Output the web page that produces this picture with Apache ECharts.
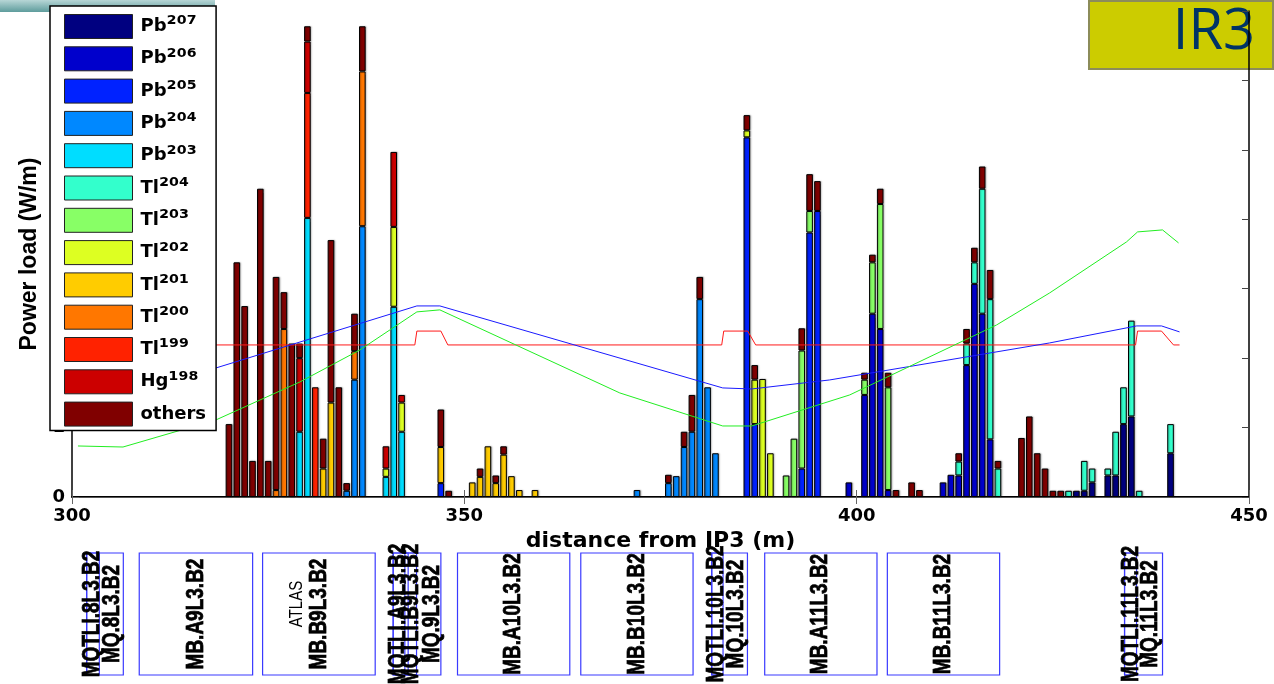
<!DOCTYPE html>
<html><head><meta charset="utf-8">
<script src="https://cdn.jsdelivr.net/npm/echarts@6/dist/echarts.min.js"></script>
<style>html,body{margin:0;padding:0;background:#fff}#c{width:1274px;height:684px}</style>
</head><body><div id="c"></div>
<script>
// ---- legend / species ----
const species = ['Pb207','Pb206','Pb205','Pb204','Pb203','Tl204','Tl203','Tl202','Tl201','Tl200','Tl199','Hg198','others'];
const colors  = ['#000080','#0000cc','#0022ff','#0088ff','#00ddff','#33ffcc','#88ff66','#ddff22','#ffcc00','#ff7700','#ff2200','#cc0000','#800000'];

// ---- stacked segment heights per 1 m bin: [distance (m), power load segment (W/m)] ----
const Pb207 = [[428,0.09],[429,0.09],[430,0.21],[432,0.31],[433,0.31],[434,1.05],[435,1.16],[440,0.63]];
const Pb206 = [[399,0.21],[401,1.47],[402,2.64],[403,2.42],[404,0.10],[411,0.21],[412,0.32],[413,0.31],[414,1.90],[415,3.07],[416,2.64],[417,0.83]];
const Pb205 = [[347,0.20],[386,5.18],[387,1.05],[393,0.41],[394,3.81],[395,4.12]];
const Pb204 = [[335,0.09],[336,1.69],[337,3.90],[372,0.10],[376,0.20],[377,0.30],[378,0.72],[379,0.94],[380,2.85],[381,1.58],[382,0.63]];
const Pb203 = [[329,0.94],[330,4.02],[340,0.29],[341,2.74],[342,0.94]];
const Tl204 = [[413,0.20],[414,0.31],[415,0.31],[416,1.80],[417,2.02],[418,0.41],[427,0.09],[429,0.43],[430,0.20],[432,0.10],[433,0.63],[434,0.53],[435,1.38],[436,0.09],[440,0.42]];
const Tl203 = [[391,0.31],[392,0.84],[393,1.70],[394,0.31],[401,0.22],[402,0.74],[403,1.80],[404,1.48]];
const Tl202 = [[340,0.12],[341,1.15],[342,0.42],[386,0.10],[387,0.64],[388,1.70],[389,0.63]];
const Tl201 = [[332,0.41],[333,1.36],[347,0.52],[351,0.21],[352,0.29],[353,0.73],[354,0.20],[355,0.61],[356,0.30],[357,0.10],[359,0.10]];
const Tl200 = [[326,0.10],[327,2.42],[336,0.41],[337,2.23]];
const Tl199 = [[330,1.80],[331,1.58]];
const Hg198 = [[329,1.06],[330,0.74],[340,0.32],[341,1.08],[342,0.11]];
const others = [[320,1.05],[321,3.38],[322,2.75],[323,0.52],[324,4.44],[325,0.52],[326,3.07],[327,0.53],[328,2.21],[329,0.21],[330,0.22],[332,0.43],[333,2.34],[334,1.58],[335,0.11],[336,0.54],[337,0.65],[347,0.54],[348,0.09],[352,0.12],[354,0.11],[355,0.12],[376,0.12],[378,0.22],[379,0.53],[380,0.32],[386,0.22],[387,0.21],[393,0.32],[394,0.53],[395,0.43],[401,0.10],[402,0.11],[403,0.22],[404,0.21],[405,0.10],[407,0.21],[408,0.10],[413,0.12],[414,0.21],[415,0.21],[416,0.32],[417,0.42],[418,0.11],[421,0.85],[422,1.16],[423,0.63],[424,0.41],[425,0.09],[426,0.09]];
const speciesData = [Pb207,Pb206,Pb205,Pb204,Pb203,Tl204,Tl203,Tl202,Tl201,Tl200,Tl199,Hg198,others];

// ---- overlay curves [distance (m), value on the same scale] ----
const redLine   = [[301.0,2.19],[343.69,2.19],[343.95,2.39],[347.01,2.39],[347.90,2.19],[382.80,2.19],[383.06,2.39],[386.11,2.39],[387.13,2.19],[435.54,2.19],[435.80,2.39],[438.85,2.39],[440.38,2.19],[441.15,2.19]];
const blueLine  = [[301.02,1.254],[343.95,2.752],[346.88,2.752],[382.93,1.571],[386.62,1.556],[396.56,1.686],[424.59,2.219],[435.67,2.464],[438.85,2.464],[441.15,2.378]];
const greenLine = [[300.76,0.735],[306.50,0.720],[318.34,1.110],[329.04,1.657],[336.69,2.118],[343.95,2.666],[346.88,2.695],[369.81,1.499],[382.93,1.023],[386.62,1.023],[399.11,1.470],[417.83,2.478],[424.59,2.939],[434.39,3.674],[435.80,3.818],[438.98,3.847],[441.02,3.660]];

// ---- machine elements (s-range in m) ----
const elemName  = ['MQTLI.8L3.B2','MQ.8L3.B2','MB.A9L3.B2','MB.B9L3.B2','MQTLI.A9L3.B2','MQTLI.B9L3.B2','MQ.9L3.B2','MB.A10L3.B2','MB.B10L3.B2','MQTLI.10L3.B2','MQ.10L3.B2','MB.A11L3.B2','MB.B11L3.B2','MQTLI.11L3.B2','MQ.11L3.B2'];
const elemStart = [301.87,301.87,308.57,324.29,340.93,342.42,340.93,349.13,364.84,381.53,381.53,388.28,403.91,434.14,434.14];
const elemEnd   = [303.48,306.54,323.02,338.64,342.84,343.91,347.01,363.44,379.15,382.97,386.08,402.59,418.22,435.67,438.98];
const labelText = ['MQTLI.8L3.B2','MQ.8L3.B2','MB.A9L3.B2','ATLAS','MB.B9L3.B2','MQTLI.A9L3.B2','MQTLI.B9L3.B2','MQ.9L3.B2','MB.A10L3.B2','MB.B10L3.B2','MQTLI.10L3.B2','MQ.10L3.B2','MB.A11L3.B2','MB.B11L3.B2','MQTLI.11L3.B2','MQ.11L3.B2'];
const labelPos  = [302.55,305.16,315.8,328.66,331.6,341.6,343.2,345.9,356.3,372.0,382.1,384.7,395.4,411.1,435.0,437.4];

const xMin = 300, xMax = 450, xStep = 50;

// ---- build options ----
const cats = [];
for (let x = xMin; x <= xMax; x++) cats.push(String(x));

const barSeries = species.map((name, i) => {
  const m = new Map(speciesData[i]);
  return {
    name, type: 'bar', stack: 'total', xAxisIndex: 0, yAxisIndex: 0,
    barWidth: 6.6,
    itemStyle: { color: colors[i], borderColor: '#000', borderWidth: 1,
                 shadowColor: 'rgba(0,0,0,0.3)', shadowBlur: 1.5, shadowOffsetX: 1 },
    emphasis: { disabled: true },
    data: cats.map(c => m.has(+c) ? m.get(+c) : '-')
  };
});

const lineSeries = [[redLine,'#ff1a1a'],[blueLine,'#1a1aff'],[greenLine,'#22ee22']].map(([d,c]) => ({
  type: 'line', xAxisIndex: 1, yAxisIndex: 0, data: d, showSymbol: false, symbol: 'none',
  lineStyle: { color: c, width: 1 }, z: 3, silent: true
}));

const boxSeries = {
  type: 'custom', xAxisIndex: 2, yAxisIndex: 2, silent: true, clip: false,
  data: elemStart.map((s,i) => [s, elemEnd[i]]),
  renderItem: function (params, api) {
    const p0 = api.coord([api.value(0), 1]);
    const p1 = api.coord([api.value(1), 0]);
    return { type: 'rect', shape: { x: p0[0], y: p0[1], width: p1[0]-p0[0], height: p1[1]-p0[1] },
             style: { fill: 'transparent', stroke: '#3a3aff', lineWidth: 1.2 } };
  }
};
const labelSeries = {
  type: 'custom', xAxisIndex: 2, yAxisIndex: 2, silent: true, clip: false, z: 5,
  data: labelPos.map(x => [x]),
  renderItem: function (params, api) {
    const t = labelText[params.dataIndex];
    const p = api.coord([api.value(0), 0.5]);
    const small = t === 'ATLAS';
    return { type: 'text', x: p[0], y: small ? p[1]-10 : p[1], rotation: Math.PI/2, scaleY: 1.25,
             style: { text: t, fill: '#000', align: 'center', verticalAlign: 'middle',
                      stroke: small ? null : '#000', lineWidth: small ? 0 : 0.6,
                      font: (small ? 'normal 15px' : 'bold 19px') + ' "Liberation Sans", Arial, sans-serif' } };
  }
};

const supMap = {'0':'\u2070','1':'\u00B9','2':'\u00B2','3':'\u00B3','4':'\u2074','5':'\u2075','6':'\u2076','7':'\u2077','8':'\u2078','9':'\u2079'};
const axisFont = { fontFamily: 'DejaVu Sans', fontWeight: 'bold', fontSize: 18, color: '#000' };

const option = {
  animation: false,
  backgroundColor: '#fff',
  grid: [
    { left: 72, right: 25, top: 11, bottom: 187 },
    { left: 72, right: 25, top: 553, height: 122 }
  ],
  xAxis: [
    { type: 'category', gridIndex: 0, position: 'bottom', data: cats, boundaryGap: false,
      axisLine: { lineStyle: { color: '#000', width: 2 } },
      axisTick: { inside: true, length: 7, interval: xStep - 1, lineStyle: { color: '#666' } },
      axisLabel: Object.assign({ margin: 10, interval: xStep - 1 }, axisFont),
      splitLine: { show: false },
      name: 'distance from IP3 (m)', nameLocation: 'middle', nameGap: 33,
      nameTextStyle: { fontFamily: 'DejaVu Sans', fontWeight: 'bold', fontSize: 22, color: '#000' } },
    { type: 'value', gridIndex: 0, position: 'top', min: xMin, max: xMax, interval: xStep,
      axisLine: { lineStyle: { color: '#555', width: 1 } },
      axisTick: { inside: true, length: 7, lineStyle: { color: '#666' } },
      axisLabel: { show: false }, splitLine: { show: false } },
    { type: 'value', gridIndex: 1, min: xMin, max: xMax, show: false }
  ],
  yAxis: [
    { type: 'value', gridIndex: 0, position: 'left', min: 0, max: 7, interval: 1,
      axisLine: { show: true, lineStyle: { color: '#000', width: 1.5 } },
      axisTick: { show: true, inside: true, length: 7, lineStyle: { color: '#666' } },
      axisLabel: Object.assign({ margin: 7 }, axisFont),
      splitLine: { show: false },
      name: 'Power load (W/m)', nameLocation: 'middle', nameRotate: 90, nameGap: 30,
      nameTextStyle: { fontFamily: 'Liberation Sans', fontWeight: 'bold', fontSize: 23, color: '#000' } },
    { type: 'value', gridIndex: 0, position: 'right', min: 0, max: 7, interval: 1,
      axisLine: { show: true, lineStyle: { color: '#000', width: 1.5 } },
      axisTick: { show: true, inside: true, length: 7, lineStyle: { color: '#444' } },
      axisLabel: { show: false }, splitLine: { show: false } },
    { type: 'value', gridIndex: 1, min: 0, max: 1, show: false }
  ],
  legend: {
    orient: 'vertical', left: 50, top: 6, selectedMode: false,
    data: species.map(n => ({ name: n, icon: 'rect' })),
    itemWidth: 68, itemHeight: 24, itemGap: 7.3,
    padding: [8, 10, 4, 14],
    backgroundColor: '#fff', borderColor: '#000', borderWidth: 1.5,
    itemStyle: { borderColor: '#222', borderWidth: 1, shadowBlur: 0, shadowOffsetX: 0, shadowColor: 'transparent' },
    formatter: function (name) {
      const m = name.match(/^([A-Za-z]+)(\d+)$/);
      return m ? '{b|' + m[1] + '}{s|' + m[2].split('').map(d => supMap[d]).join('') + '}' : '{b|' + name + '}';
    },
    textStyle: {
      rich: {
        b: { fontFamily: 'DejaVu Sans', fontWeight: 'bold', fontSize: 18, color: '#000', lineHeight: 24, padding: [0,0,0,3] },
        s: { fontFamily: 'DejaVu Sans', fontWeight: 'bold', fontSize: 23, color: '#000', lineHeight: 24 }
      }
    }
  },
  graphic: [
    { type: 'rect', left: 0, top: 0, z: 1, silent: true, shape: { width: 215, height: 12 },
      style: { fill: new echarts.graphic.LinearGradient(0,0,0,1,[{offset:0,color:'#b7d6d6'},{offset:1,color:'#5e9c9c'}]) } },
    { type: 'group', right: 0, top: 0, z: 100, silent: true, children: [
      { type: 'rect', shape: { x: 0, y: 0, width: 184, height: 68 }, style: { fill: '#cccc00', stroke: '#8c8c5a', lineWidth: 2 } },
      { type: 'text', x: 166, y: 32, style: { text: 'IR3', fill: '#003366', font: 'normal 56px "Open Sans", sans-serif', align: 'right', verticalAlign: 'middle' } }
    ] }
  ],
  series: barSeries.concat(lineSeries, [boxSeries, labelSeries])
};

const chart = echarts.init(document.getElementById('c'), null, { renderer: 'canvas' });
chart.setOption(option);
</script>
</body></html>
